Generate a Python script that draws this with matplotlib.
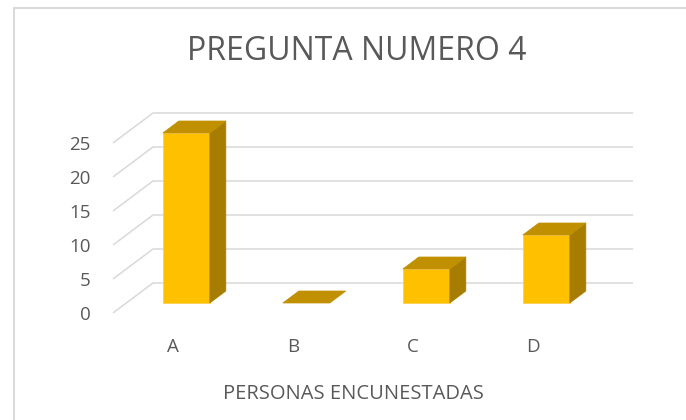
import matplotlib
matplotlib.use("Agg")
import matplotlib.pyplot as plt
from matplotlib.patches import Polygon, Rectangle

# ---- data ----
categories = ["A", "B", "C", "D"]
values = [25, 0, 5, 10]
yticks = [0, 5, 10, 15, 20, 25]
title = "PREGUNTA NUMERO 4"
xlabel = "PERSONAS ENCUNESTADAS"

# ---- layout (pixel based) ----
W, H = 686, 420
PX_PER_CAT = 120.0
PX_PER_VAL = 6.8
X0_PX = 113.0      # left front edge of plot
Y0_PX = 313.0      # front floor (value 0), measured from top
DEPTH_DX_PX, DEPTH_DY_PX = 40.0, 30.0
DX = DEPTH_DX_PX / PX_PER_CAT      # full depth offset, category units
DY = DEPTH_DY_PX / PX_PER_VAL      # full depth offset, value units
BAR_W = 47.0 / PX_PER_CAT
D0, D1 = 10.0 / 30.0, 22.0 / 30.0  # bar depth fraction range
TXT_SHIFT = 2.0 / PX_PER_VAL       # small downward nudge of labels

GRID = "#d9d9d9"
TXT = "#595959"
FRONT = "#FFC000"
TOP = "#C09000"
SIDE = "#A67D00"

plt.rcParams['font.family'] = ['Open Sans', 'DejaVu Sans']

fig = plt.figure(figsize=(W / 100, H / 100), dpi=100)
ax = fig.add_axes([0, 0, 1, 1])
ax.set_xlim(-0.5 - X0_PX / PX_PER_CAT, -0.5 + (W - X0_PX) / PX_PER_CAT)
ax.set_ylim(-(H - Y0_PX) / PX_PER_VAL, Y0_PX / PX_PER_VAL)
ax.axis("off")

def P(x, v, d):
    return (x + d * DX, v + d * DY)

ncat = len(categories)
xl, xr = -0.5, ncat - 0.5

# gridlines: left wall diagonals and back wall horizontals
for t in yticks:
    a = P(xl, t, 0); b = P(xl, t, 1); c = P(xr, t, 1)
    ax.plot([a[0], b[0], c[0]], [a[1], b[1], c[1]], color=GRID, lw=1.1,
            solid_capstyle="butt", zorder=1)
    ax.text(xl - 22 / PX_PER_CAT, t - TXT_SHIFT, str(t), ha="right", va="center",
            fontsize=13.5, color=TXT)

# bars
for i, v in enumerate(values):
    x1, x2 = i - BAR_W / 2, i + BAR_W / 2
    front = [P(x1, 0, D0), P(x2, 0, D0), P(x2, v, D0), P(x1, v, D0)]
    top = [P(x1, v, D0), P(x2, v, D0), P(x2, v, D1), P(x1, v, D1)]
    side = [P(x2, 0, D0), P(x2, 0, D1), P(x2, v, D1), P(x2, v, D0)]
    z = 3 + i
    if v > 0:
        ax.add_patch(Polygon(front, closed=True, fc=FRONT, ec="#FFD050", lw=0.6, zorder=z))
        ax.add_patch(Polygon(side, closed=True, fc=SIDE, ec=SIDE, lw=0.5, zorder=z))
    ax.add_patch(Polygon(top, closed=True, fc=TOP, ec=TOP, lw=0.5, zorder=z))

# category labels
for i, c in enumerate(categories):
    ax.text(i, -(345 - Y0_PX) / PX_PER_VAL - TXT_SHIFT, c, ha="center", va="center",
            fontsize=13.5, color=TXT)

ax.text((xl + xr) / 2, -(392 - Y0_PX) / PX_PER_VAL - TXT_SHIFT, xlabel, ha="center",
        va="center", fontsize=14.5, color=TXT)

fig.text(357 / W, 1 - 52 / H, title, ha="center", va="center",
         fontsize=23, color=TXT)

# chart border
fig.patches.append(Rectangle((13.5 / W, -0.1), 1.2, 1.1 - 8.5 / H,
                             transform=fig.transFigure, fill=False,
                             ec=GRID, lw=1.4, zorder=0))

fig.savefig("out.png", dpi=100)
